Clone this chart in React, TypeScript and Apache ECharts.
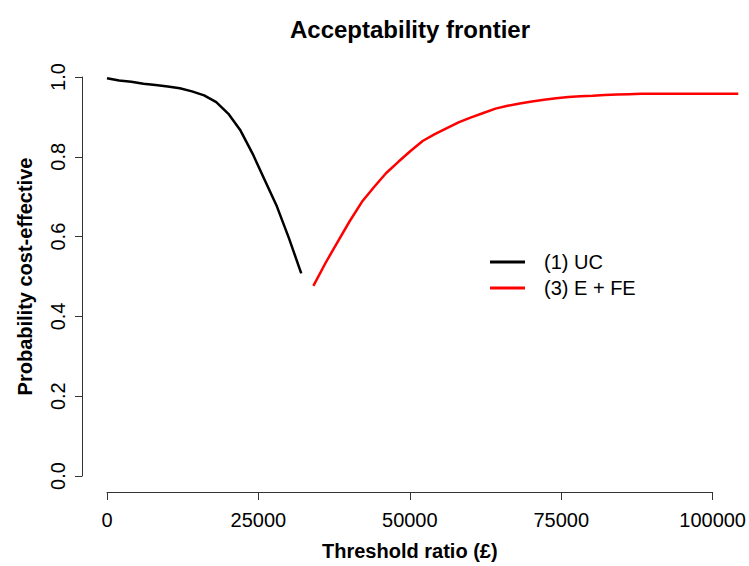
import React, { useEffect, useRef } from "react";
import * as echarts from "echarts";

const titleText = "Acceptability frontier";
const xAxisName = "Threshold ratio (£)";
const yAxisName = "Probability cost-effective";

const ucName = "(1) UC";
const ucX = [0, 2000, 4000, 6000, 8000, 10000, 12000, 14000, 16000, 18000, 20000, 22000, 24000, 26000, 28000, 30000, 32000];
const ucY = [0.997, 0.991, 0.988, 0.983, 0.98, 0.976, 0.972, 0.964, 0.954, 0.937, 0.908, 0.866, 0.808, 0.742, 0.676, 0.596, 0.509];

const efeName = "(3) E + FE";
const efeX = [34000, 36000, 38000, 40000, 42000, 44000, 46000, 48000, 50000, 52000, 54000, 56000, 58000, 60000, 62000, 64000, 66000, 68000, 70000, 72000, 74000, 76000, 78000, 80000, 82000, 84000, 86000, 88000, 90000, 92000, 94000, 96000, 98000, 100000, 102000, 104000];
const efeY = [0.478, 0.535, 0.588, 0.64, 0.688, 0.725, 0.76, 0.788, 0.815, 0.84, 0.857, 0.872, 0.887, 0.899, 0.91, 0.921, 0.928, 0.934, 0.939, 0.943, 0.947, 0.95, 0.952, 0.953, 0.955, 0.956, 0.957, 0.958, 0.958, 0.958, 0.958, 0.958, 0.958, 0.958, 0.958, 0.958];

const xTicks = [0, 25000, 50000, 75000, 100000];
const yTicks = [0, 0.2, 0.4, 0.6, 0.8, 1.0];

const FONT = "'Liberation Sans', Arial, Helvetica, sans-serif";

// layout (pixels)
const W = 749;
const GRID_LEFT = 107;
const AXIS_RIGHT = 35; // right margin of the tick-bearing axis (ends at the last tick)
const DATA_RIGHT = 8; // the curves may run past the last tick, as in the reference
const GRID_TOP = 77;
const GRID_BOTTOM = 89;

export default function App() {
  const ref = useRef<HTMLDivElement>(null);
  useEffect(() => {
    if (!ref.current) return;
    const chart = echarts.init(ref.current, null, { renderer: "svg" });
    const pair = (xs: number[], ys: number[]) => xs.map((x, i) => [x, ys[i]]);
    const xMin = xTicks[0];
    const xMax = xTicks[xTicks.length - 1];
    const axisW = W - GRID_LEFT - AXIS_RIGHT;
    const dataW = W - GRID_LEFT - DATA_RIGHT;
    const dataXMax = xMin + ((xMax - xMin) * dataW) / axisW;
    chart.setOption({
      animation: false,
      backgroundColor: "#ffffff",
      textStyle: { fontFamily: FONT },
      graphic: [
        {
          type: "text",
          x: 410,
          y: 29,
          style: {
            text: titleText,
            font: `bold 24px ${FONT}`,
            fill: "#000",
            align: "center",
            verticalAlign: "middle",
          },
        },
      ],
      legend: {
        orient: "vertical",
        left: 485,
        top: 247,
        itemWidth: 35,
        itemHeight: 3,
        itemGap: 6,
        icon: "rect",
        textStyle: { fontSize: 20, color: "#000", fontFamily: FONT, lineHeight: 20, padding: [0, 0, 0, 14] },
        data: [ucName, efeName],
      },
      grid: [
        { left: GRID_LEFT, right: AXIS_RIGHT, top: GRID_TOP, bottom: GRID_BOTTOM, containLabel: false },
        { left: GRID_LEFT, right: DATA_RIGHT, top: GRID_TOP, bottom: GRID_BOTTOM, containLabel: false },
      ],
      xAxis: [
        {
          type: "value",
          gridIndex: 0,
          min: xMin,
          max: xMax,
          interval: 25000,
          offset: 16,
          name: xAxisName,
          nameLocation: "middle",
          nameGap: 49,
          nameTextStyle: { fontSize: 20, fontWeight: "bold", color: "#000", fontFamily: FONT },
          axisLine: { show: true, onZero: false, lineStyle: { color: "#333", width: 1 } },
          axisTick: { show: true, length: 8, lineStyle: { color: "#333", width: 1 } },
          axisLabel: { fontSize: 20, color: "#000", margin: 18, fontFamily: FONT, formatter: (v: number) => String(v) },
          splitLine: { show: false },
        },
        {
          type: "value",
          gridIndex: 1,
          min: xMin,
          max: dataXMax,
          show: false,
          splitLine: { show: false },
        },
      ],
      yAxis: [
        {
          type: "value",
          gridIndex: 0,
          min: yTicks[0],
          max: yTicks[yTicks.length - 1],
          interval: 0.2,
          offset: 25,
          name: yAxisName,
          nameLocation: "middle",
          nameGap: 47,
          nameTextStyle: { fontSize: 20, fontWeight: "bold", color: "#000", fontFamily: FONT },
          axisLine: { show: true, onZero: false, lineStyle: { color: "#333", width: 1 } },
          axisTick: { show: true, length: 7, lineStyle: { color: "#333", width: 1 } },
          axisLabel: { fontSize: 20, color: "#000", margin: 14, rotate: 90, fontFamily: FONT, formatter: (v: number) => v.toFixed(1) },
          splitLine: { show: false },
        },
        {
          type: "value",
          gridIndex: 1,
          min: yTicks[0],
          max: yTicks[yTicks.length - 1],
          show: false,
          splitLine: { show: false },
        },
      ],
      series: [
        {
          name: ucName,
          type: "line",
          xAxisIndex: 1,
          yAxisIndex: 1,
          data: pair(ucX, ucY),
          symbol: "none",
          clip: false,
          color: "#000000",
          lineStyle: { color: "#000000", width: 2.5 },
        },
        {
          name: efeName,
          type: "line",
          xAxisIndex: 1,
          yAxisIndex: 1,
          data: pair(efeX, efeY),
          symbol: "none",
          clip: false,
          color: "#ff0000",
          lineStyle: { color: "#ff0000", width: 2.5 },
        },
      ],
    });
    return () => chart.dispose();
  }, []);
  return <div ref={ref} style={{ position: "fixed", left: 0, top: 0, width: 749, height: 566 }} />;
}
